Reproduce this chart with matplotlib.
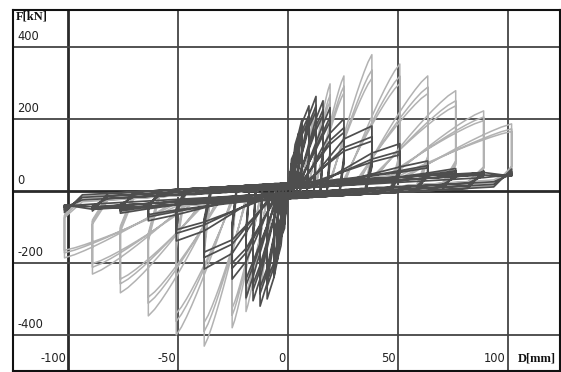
import numpy as np
import matplotlib
matplotlib.use("Agg")
import matplotlib.pyplot as plt

# ---------------- data ----------------
# Specimen A (light grey): cycle amplitudes [mm] and peak forces [kN], 3 cycles each
amp_A = [6.4, 12.7, 19.1, 25.4, 38.1, 50.8, 63.5, 76.2, 88.9, 101.6]
fpos_A1 = [150, 240, 297, 319, 378, 352, 319, 278, 222, 186]
fpos_A2 = [130, 212, 265, 290, 335, 318, 288, 250, 205, 172]
fpos_A3 = [120, 198, 248, 272, 312, 298, 270, 236, 195, 165]
fneg_A1 = [-160, -265, -335, -380, -431, -400, -347, -283, -231, -186]
fneg_A2 = [-140, -235, -300, -345, -390, -362, -312, -258, -212, -172]
fneg_A3 = [-130, -220, -282, -325, -365, -340, -295, -245, -202, -165]

# Specimen B (dark grey)
amp_B = [1.6, 3.2, 4.8, 6.4, 9.5, 12.7, 15.9, 19.1, 25.4, 38.1, 50.8, 63.5, 76.2, 88.9, 101.6]
fpos_B1 = [60, 110, 160, 200, 236, 262, 250, 231, 200, 180, 131, 83, 62, 52, 45]
fpos_B2 = [50, 95, 140, 175, 210, 235, 225, 205, 175, 150, 110, 70, 56, 48, 42]
fpos_B3 = [45, 88, 130, 162, 196, 220, 210, 192, 162, 138, 100, 64, 53, 46, 41]
fneg_B1 = [-70, -130, -190, -240, -300, -320, -305, -297, -245, -217, -139, -83, -62, -52, -42]
fneg_B2 = [-60, -115, -165, -210, -265, -285, -275, -262, -215, -185, -118, -72, -56, -48, -40]
fneg_B3 = [-55, -105, -152, -195, -248, -268, -258, -245, -200, -170, -108, -66, -53, -46, -39]

x_ticks = [-100, -50, 0, 50, 100]
y_ticks = [-400, -200, 0, 200, 400]

LIGHT = "#b2b2b2"
DARK = "#4e4e4e"


def half_cycle(A, P, A_prev, kind, k, off, drop):
    """Positive-direction half cycle through the read peak (A, P)."""
    fb = lambda d: k * d + off
    pts = [(0.0, off)]
    if kind == "A":
        d_re = 0.5 * A
        f_re = fb(d_re)
        pts.append((d_re, f_re))
        t = np.linspace(0, 1, 12)[1:]
        dd = d_re + (A - d_re) * t
        ff = f_re + (P - f_re) * (1 - (1 - t) ** 1.2)
        pts += list(zip(dd, ff))
    else:
        ap = A_prev if A_prev > 0 else 0.5 * A
        d_re = 0.3 * ap
        pts.append((d_re, fb(d_re)))
        pts.append((ap, max(0.8 * P, fb(ap))))
        pts.append((A, P))
    fd = max(drop * P, fb(A) + 5)
    pts.append((A, fd))
    du = A - max(0.08 * A, 1.0)
    pts.append((du, k * du - off))
    pts.append((0.0, -off))
    return pts


def build(amps, pos, neg, kind, k, off, dpos, dneg):
    D, F = [], []
    prev = 0.0
    for i, A in enumerate(amps):
        for c in range(len(pos)):
            P, N = pos[c][i], neg[c][i]
            oc = off * (0.5 + 0.55 * c)
            for d, f in half_cycle(A, P, prev, kind, k, oc, dpos):
                D.append(d); F.append(f)
            for d, f in half_cycle(A, -N, prev, kind, k, oc, dneg):
                D.append(-d); F.append(-f)
        prev = A
    return np.array(D), np.array(F)


fig = plt.figure(figsize=(5.61, 3.72), dpi=100)
ax = fig.add_axes([13 / 561, 1 - 371 / 372, 547 / 561, 361 / 372])
ax.set_xlim(-125, 123.6)
ax.set_ylim(-500, 502)

# grid
for xv in x_ticks:
    ax.axvline(xv, color="#2a2a2a" if xv == -100 else "#444444",
               lw=2.0 if xv == -100 else 1.3, zorder=1)
for yv in y_ticks:
    ax.axhline(yv, color="#2a2a2a" if yv == 0 else "#444444",
               lw=2.0 if yv == 0 else 1.3, zorder=1)

DA, FA = build(amp_A, [fpos_A1, fpos_A2, fpos_A3], [fneg_A1, fneg_A2, fneg_A3],
               "A", 0.40, 14, 0.30, 0.40)
DB, FB = build(amp_B, [fpos_B1, fpos_B2, fpos_B3], [fneg_B1, fneg_B2, fneg_B3],
               "B", 0.34, 13, 0.48, 0.45)
ax.plot(DA, FA, color=LIGHT, lw=1.1, zorder=2)
ax.plot(DB, FB, color=DARK, lw=1.25, zorder=3)

for s in ax.spines.values():
    s.set_color("#111111")
    s.set_linewidth(1.5)
ax.set_xticks([])
ax.set_yticks([])

tick_font = dict(family="DejaVu Sans", fontsize=8.3, color="#222222")
for yv in y_ticks:
    ax.annotate(f"{yv}", xy=(-125, yv), xytext=(3, 3), textcoords="offset points",
                ha="left", va="bottom", zorder=5, **tick_font)
for xv in x_ticks:
    ax.annotate(f"{xv}", xy=(xv, -500), xytext=(-1.5, 9), textcoords="offset points",
                ha="right", va="center", zorder=5, **tick_font)

ax.annotate("F[kN]", xy=(-125, 502), xytext=(2, -0.5), textcoords="offset points",
            ha="left", va="top", family="Liberation Serif", fontweight="bold",
            fontsize=9, color="#111111", zorder=5)
ax.annotate("D[mm]", xy=(123.6, -500), xytext=(-3, 9), textcoords="offset points",
            ha="right", va="center", family="Liberation Serif", fontweight="bold",
            fontsize=9, color="#111111", zorder=5)

fig.savefig("out.png", dpi=100)
